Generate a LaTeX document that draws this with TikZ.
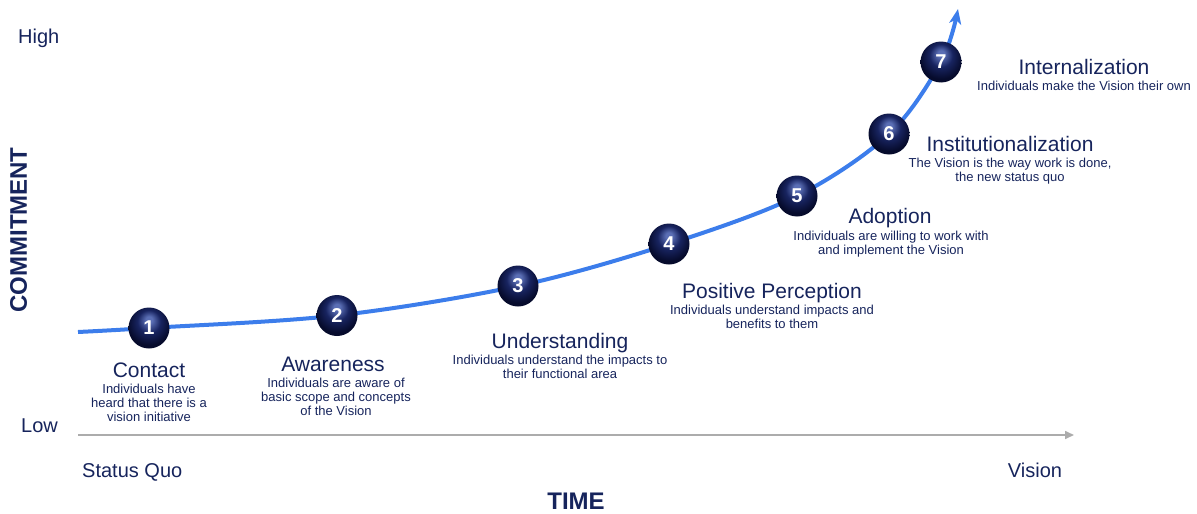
\documentclass[tikz,border=0pt]{standalone}
\usepackage{fontspec}
\setmainfont{Liberation Sans}
\usetikzlibrary{arrows.meta}

\definecolor{navytext}{RGB}{22,36,92}
\definecolor{curveblue}{RGB}{60,125,235}
\definecolor{axisgray}{RGB}{172,172,172}
\definecolor{orbhi}{RGB}{90,110,180}
\definecolor{orbmid}{RGB}{24,36,96}
\definecolor{orbdark}{RGB}{6,11,44}

% dark glossy sphere for the stage numbers
\pgfdeclareradialshading{orb}{\pgfpoint{0bp}{11bp}}{%
  color(0bp)=(orbhi); color(4bp)=(orbhi); color(14bp)=(orbmid);
  color(26bp)=(orbdark); color(50bp)=(orbdark)}

\tikzset{
  axislabel/.style={text=navytext, font=\fontsize{20}{20}\selectfont, inner sep=0pt},
  axistitle/.style={text=navytext, font=\fontsize{24}{24}\selectfont\bfseries, inner sep=0pt},
  timeaxis/.style={axisgray, line width=1.6pt, -{Triangle[length=9pt, width=8pt]}},
  growth/.style={curveblue, line width=4pt, -{Stealth[length=15pt, width=12pt, inset=4pt]}},
  orb/.style={circle, shade, shading=orb, minimum size=41pt, inner sep=0pt,
    text=white, font=\fontsize{20}{20}\selectfont\bfseries},
  stagetitle/.style={text=navytext, font=\fontsize{21}{21}\selectfont, anchor=base, inner sep=0pt},
  stagedesc/.style={text=navytext, font=\fontsize{13}{14}\selectfont, align=center,
    anchor=north, inner sep=0pt},
}

\begin{document}
\begin{tikzpicture}[x=1pt, y=-1pt]
  \useasboundingbox (0,0) rectangle (1197,514);

  % Axis labels
  \node[axislabel, anchor=base west] (high) at (18,43.5) {High};
  \node[axislabel, anchor=base west] (low) at (21,432.5) {Low};
  \node[axislabel, anchor=base west] (statusquo) at (82,477) {Status Quo};
  \node[axislabel, anchor=base] (vision) at (1035,477) {Vision};
  \node[axistitle, anchor=base] (time) at (576,509) {TIME};
  \node[axistitle, rotate=90, anchor=base] (commitment) at (27,230) {COMMITMENT};

  % Time axis
  \coordinate (a0) at (78,435);
  \coordinate (a1) at (1074,435);
  \draw[timeaxis] (a0) -- (a1);

  % Commitment curve
  \coordinate (c0) at (78,332);
  \coordinate (c1) at (149,328);
  \coordinate (c2) at (337,315.5);
  \coordinate (c3) at (518,286);
  \coordinate (c4) at (669,244);
  \coordinate (c5) at (797,196);
  \coordinate (c6) at (889,134);
  \coordinate (c7) at (941,62);
  \coordinate (c8) at (958,9);
  \draw[growth] plot[smooth, tension=0.55] coordinates {(c0) (c1) (c2) (c3) (c4) (c5) (c6) (c7) (c8)};

  % Stage markers
  \node[orb] (s1) at (c1) {1};
  \node[orb] (s2) at (c2) {2};
  \node[orb] (s3) at (c3) {3};
  \node[orb] (s4) at (c4) {4};
  \node[orb] (s5) at (c5) {5};
  \node[orb] (s6) at (c6) {6};
  \node[orb] (s7) at (c7) {7};

  % Stage texts (descriptions hang from the top of their first line)
  \node[stagetitle] (t1) at (149,377.5) {Contact};
  \node[stagedesc] (d1) at (149,384) {Individuals have\\heard that there is a\\vision initiative};

  \node[stagetitle] (t2) at (333,371.5) {Awareness};
  \node[stagedesc] (d2) at (336,378) {Individuals are aware of\\basic scope and concepts\\of the Vision};

  \node[stagetitle] (t3) at (560,348.5) {Understanding};
  \node[stagedesc] (d3) at (560,354.5) {Individuals understand the impacts to\\their functional area};

  \node[stagetitle] (t4) at (772,298.5) {Positive Perception};
  \node[stagedesc] (d4) at (772,305) {Individuals understand impacts and\\benefits to them};

  \node[stagetitle] (t5) at (890,223.5) {Adoption};
  \node[stagedesc] (d5) at (891,230.5) {Individuals are willing to work with\\and implement the Vision};

  \node[stagetitle] (t6) at (1010,151) {Institutionalization};
  \node[stagedesc] (d6) at (1010,157.5) {The Vision is the way work is done,\\the new status quo};

  \node[stagetitle] (t7) at (1084,74.5) {Internalization};
  \node[stagedesc] (d7) at (1084,81) {Individuals make the Vision their own};
\end{tikzpicture}
\end{document}
